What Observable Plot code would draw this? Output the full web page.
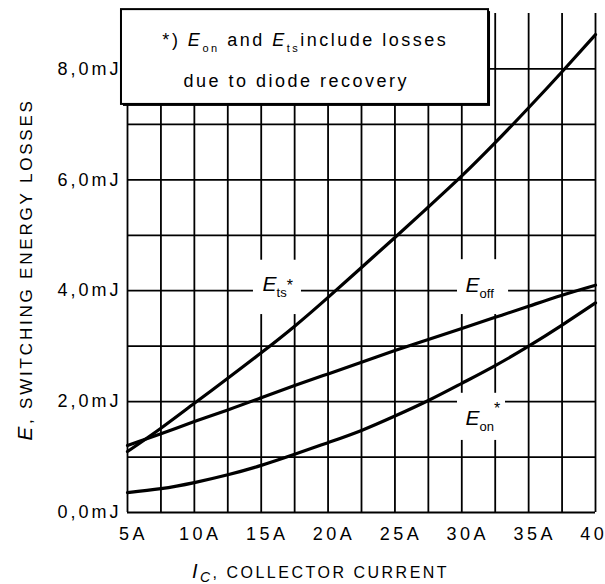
<!DOCTYPE html>
<html><head><meta charset="utf-8">
<script src="https://cdn.jsdelivr.net/npm/d3@7"></script>
<script src="https://cdn.jsdelivr.net/npm/@observablehq/plot@0.6"></script>
<style>
html,body{margin:0;padding:0;background:#fff;}
#chart svg{display:block;}
</style></head><body><div id="chart"></div>
<script>
// ---- data ----
const current = [5, 7.5, 10, 12.5, 15, 17.5, 20, 22.5, 25, 27.5, 30, 32.5, 35, 37.5, 40];
const eTs  = [1.10, 1.52, 1.97, 2.42, 2.88, 3.36, 3.88, 4.42, 4.96, 5.51, 6.07, 6.67, 7.30, 7.95, 8.62];
const eOff = [1.21, 1.42, 1.64, 1.85, 2.07, 2.29, 2.50, 2.71, 2.92, 3.12, 3.32, 3.52, 3.72, 3.92, 4.10];
const eOn  = [0.36, 0.43, 0.54, 0.68, 0.85, 1.05, 1.26, 1.48, 1.74, 2.02, 2.33, 2.65, 3.00, 3.38, 3.78];
const seriesNames = ["Ets", "Eoff", "Eon"];
const xTicks = [5, 10, 15, 20, 25, 30, 35, 40];
const yTicks = [0, 2, 4, 6, 8];
const xGrid = [5, 7.5, 10, 12.5, 15, 17.5, 20, 22.5, 25, 27.5, 30, 32.5, 35, 37.5, 40];
const yGrid = [0, 1, 2, 3, 4, 5, 6, 7, 8];
const xDomain = [5, 40];
const yDomain = [0, 9];
const curveLabels = [
  {text: "~E~_{ts}*", x: 15.1, y: 4.0},
  {text: "~E~_{off}", x: 30.28, y: 3.97},
  {text: "~E~_{on}^{*}", x: 30.28, y: 1.57}
];
const knockouts = [
  {x1: 14.42, x2: 18.01, y1: 3.57, y2: 4.55},
  {x1: 29.68, x2: 33.5, y1: 3.57, y2: 4.56},
  {x1: 29.68, x2: 33.27, y1: 1.30, y2: 2.15}
];
const noteBox = [{x1: 4.55, x2: 32.0, y1: 7.36, y2: 9.07}];
const noteLines = [
  {text: "*) ~E~_{on} and ~E~_{ts}include losses", x: 18.3, y: 8.405},
  {text: "due to diode recovery", x: 17.62, y: 7.666}
];
const yTitle = "~E~, SWITCHING ENERGY LOSSES";
const xTitle = "~I~_{C}, COLLECTOR CURRENT";

// ---- table ----
const rows = [];
[eTs, eOff, eOn].forEach((arr, k) => current.forEach((c, i) => rows.push({s: seriesNames[k], x: c, y: arr[i]})));

const fmtY = d => d.toFixed(1).replace(".", ",") + "mJ";

const plot = Plot.plot({
  width: 605, height: 584,
  marginLeft: 127, marginRight: 10, marginTop: 13, marginBottom: 72,
  style: {fontFamily: "'Liberation Sans', Arial, sans-serif", fontSize: "18px", color: "black", background: "white"},
  x: {domain: xDomain, ticks: xTicks, tickFormat: d => d + "A", tickSize: 0, tickPadding: 15, label: null},
  y: {domain: yDomain, ticks: yTicks, tickFormat: fmtY, tickSize: 0, tickPadding: 6, label: null},
  marks: [
    Plot.ruleX(xGrid, {y1: 0, y2: 9, stroke: "black", strokeWidth: 1.8}),
    Plot.ruleY(yGrid, {x1: 5, x2: 40, stroke: "black", strokeWidth: 1.8}),
    Plot.rect(knockouts, {x1: "x1", x2: "x2", y1: "y1", y2: "y2", fill: "white"}),
    Plot.line(rows, {x: "x", y: "y", z: "s", stroke: "black", strokeWidth: 3.2, curve: "natural"}),
    Plot.rect(noteBox, {x1: "x1", x2: "x2", y1: "y1", y2: "y2", fill: "black", dx: 2, dy: 2}),
    Plot.rect(noteBox, {x1: "x1", x2: "x2", y1: "y1", y2: "y2", fill: "white", stroke: "black", strokeWidth: 2}),
    Plot.text(noteLines, {x: "x", y: "y", text: "text", lineAnchor: "bottom", textAnchor: "middle", fontSize: 18}),
    Plot.text(curveLabels, {x: "x", y: "y", text: "text", lineAnchor: "bottom", textAnchor: "start", fontSize: 16}),
    Plot.text([yTitle], {text: d => d, frameAnchor: "left", dx: -96, dy: 6.5, rotate: -90, lineAnchor: "bottom", textAnchor: "middle", fontSize: 17}),
    Plot.text([xTitle], {text: d => d, frameAnchor: "bottom", dx: -41, dy: 65, lineAnchor: "bottom", textAnchor: "middle", fontSize: 16})
  ]
});

const noteCfg = {ls: 2.5, italicSize: 18, subSize: 11, subShift: 6, supSize: 16, supShift: 0};
const labelCfg = {ls: 0, italicSize: 21, subSize: 13, subShift: 6, supSize: 16, supShift: 11};
const cfgFor = new Map([
  [noteLines[0].text, noteCfg], [noteLines[1].text, noteCfg],
  [curveLabels[0].text, labelCfg], [curveLabels[1].text, labelCfg], [curveLabels[2].text, labelCfg],
  [yTitle, {ls: 2.8, italicSize: 21, subSize: 13, subShift: 4, supSize: 13, supShift: 0}],
  [xTitle, {ls: 2.5, italicSize: 20, subSize: 14, subShift: 4, subItalic: true, supSize: 13, supShift: 0}]
]);

const svgns = "http://www.w3.org/2000/svg";
plot.querySelectorAll("text").forEach(el => {
  const s = el.textContent;
  const cfg = cfgFor.get(s);
  if (!cfg) return;
  if (cfg.ls) el.setAttribute("letter-spacing", cfg.ls);
  const parts = s.split(/(~[^~]+~|_\{[^}]*\}|\^\{[^}]*\})/).filter(p => p.length);
  el.textContent = "";
  let shift = 0;
  for (const p of parts) {
    const ts = document.createElementNS(svgns, "tspan");
    let target = 0;
    if (p[0] === "~") {
      ts.textContent = p.slice(1, -1);
      ts.setAttribute("font-style", "italic");
      ts.setAttribute("font-size", cfg.italicSize);
    } else if (p.startsWith("_{")) {
      ts.textContent = p.slice(2, -1);
      ts.setAttribute("font-size", cfg.subSize);
      if (cfg.subItalic) ts.setAttribute("font-style", "italic");
      target = cfg.subShift;
    } else if (p.startsWith("^{")) {
      ts.textContent = p.slice(2, -1);
      ts.setAttribute("font-size", cfg.supSize);
      target = -cfg.supShift;
    } else {
      ts.textContent = p;
    }
    if (target !== shift) { ts.setAttribute("dy", target - shift); shift = target; }
    el.appendChild(ts);
  }
});

const xLabels = xTicks.map(d => d + "A");
const yLabels = yTicks.map(fmtY);
plot.querySelectorAll("text").forEach(t => {
  const s = t.textContent;
  if (xLabels.includes(s)) { t.setAttribute("letter-spacing", 3.5); t.setAttribute("dx", 6); }
  else if (yLabels.includes(s)) { t.setAttribute("letter-spacing", 3); }
});
document.getElementById("chart").appendChild(plot);
</script></body></html>
